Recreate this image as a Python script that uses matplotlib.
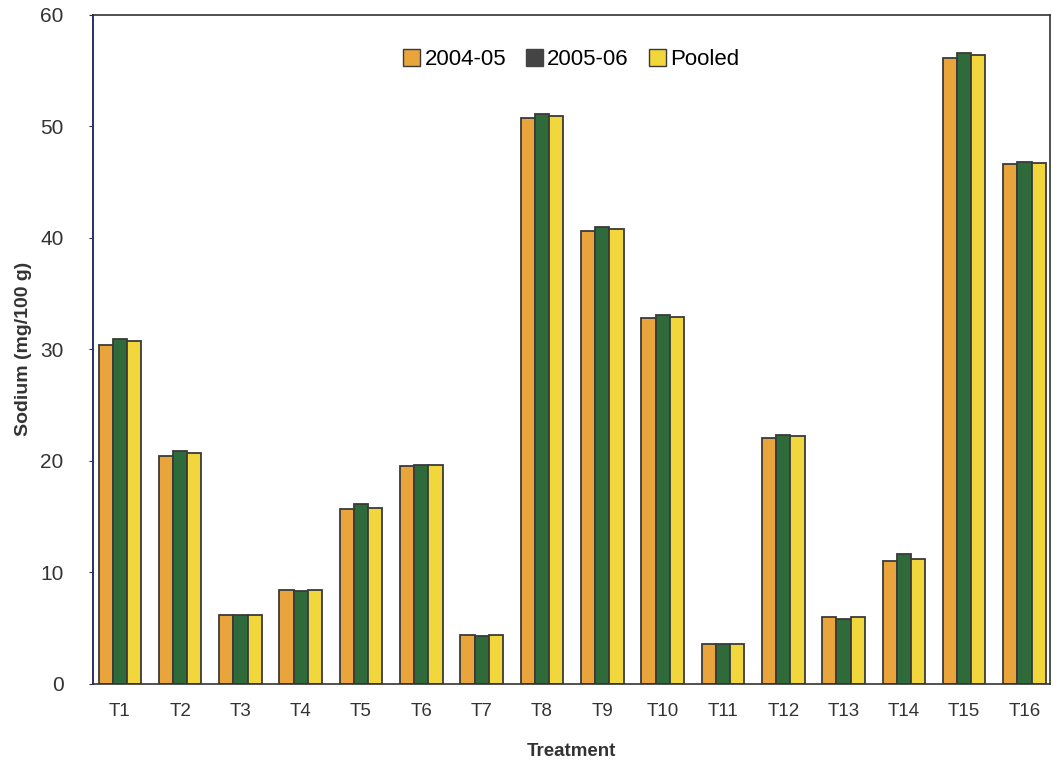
import numpy as np
import matplotlib
matplotlib.use('Agg')
import matplotlib.pyplot as plt
from matplotlib.patches import Patch

plt.rcParams['font.family'] = ['Liberation Sans', 'DejaVu Sans']

# Sodium content per treatment
treatments = [f"T{i}" for i in range(1, 17)]
yr_2004 = [30.4, 20.4, 6.2, 8.4, 15.7, 19.5, 4.4, 50.7, 40.6, 32.8, 3.6, 22.0, 6.0, 11.0, 56.1, 46.6]
yr_2005 = [30.9, 20.9, 6.2, 8.3, 16.1, 19.6, 4.3, 51.1, 41.0, 33.1, 3.6, 22.3, 5.8, 11.6, 56.6, 46.8]
pooled = [30.7, 20.7, 6.2, 8.4, 15.8, 19.6, 4.4, 50.9, 40.8, 32.9, 3.6, 22.2, 6.0, 11.2, 56.4, 46.7]

C_ORANGE = '#E9A43C'
C_GREEN = '#2F6A3B'
C_YELLOW = '#F1D73C'
EDGE = '#3a3a3a'

fig = plt.figure(figsize=(10.53, 7.71), dpi=100)
ax = fig.add_axes([0.088, 0.113, 0.909, 0.868])

x = np.arange(len(treatments))
w = 0.235
ax.bar(x - w, yr_2004, w, color=C_ORANGE, edgecolor=EDGE, linewidth=1.3)
ax.bar(x, yr_2005, w, color=C_GREEN, edgecolor=EDGE, linewidth=1.3)
ax.bar(x + w, pooled, w, color=C_YELLOW, edgecolor=EDGE, linewidth=1.3)

ax.set_xlim(-0.45, 15.42)
ax.set_ylim(0, 60)
ax.set_yticks(range(0, 61, 10))
ax.set_xticks(x)
ax.set_xticklabels(treatments)
ax.tick_params(axis='x', length=0, pad=14, labelsize=13.5, colors='#333333')
ax.tick_params(axis='y', length=3, pad=18, labelsize=15, colors='#333333')

for side in ['top', 'right', 'bottom']:
    ax.spines[side].set_color('#333333')
    ax.spines[side].set_linewidth(1.2)
ax.spines['left'].set_color('#27306a')
ax.spines['left'].set_linewidth(1.4)

ax.set_xlabel("Treatment", fontsize=13.5, fontweight='bold', color='#333333', labelpad=16)
ax.set_ylabel("Sodium (mg/100 g)", fontsize=14, fontweight='bold', color='#333333', labelpad=6)

handles = [Patch(facecolor=C_ORANGE, edgecolor=EDGE),
           Patch(facecolor='#444444', edgecolor='#444444'),
           Patch(facecolor=C_YELLOW, edgecolor=EDGE)]
ax.legend(handles, ['2004-05', '2005-06', 'Pooled'], loc='upper center',
          bbox_to_anchor=(0.5, 0.978), ncol=3, frameon=False, fontsize=16,
          handlelength=0.75, handleheight=0.75, handletextpad=0.2, columnspacing=0.9)

fig.savefig('out.png', dpi=100)
